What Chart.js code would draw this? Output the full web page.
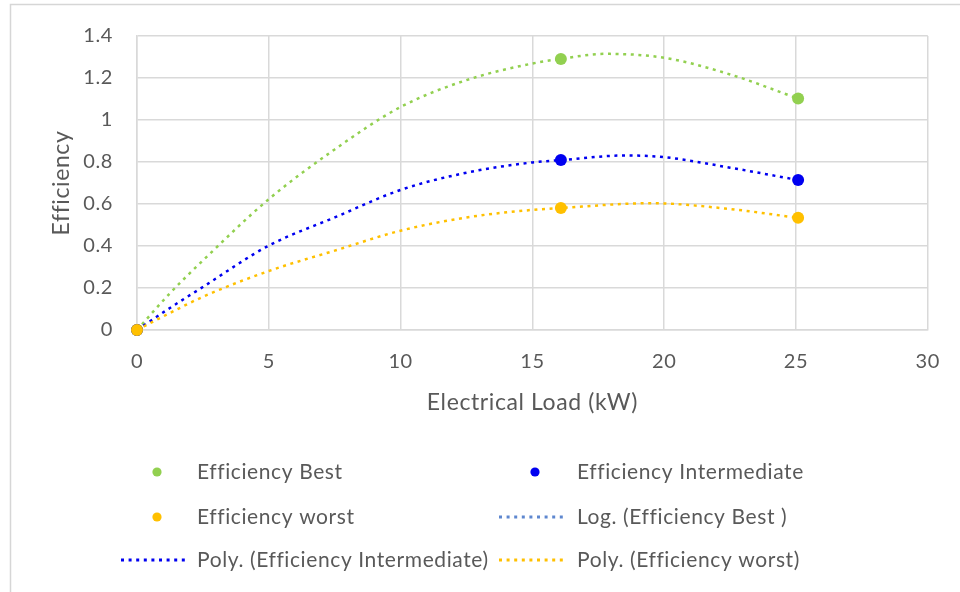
<!DOCTYPE html>
<html>
<head>
<meta charset="utf-8">
<script src="https://cdn.jsdelivr.net/npm/chart.js@4.4.1/dist/chart.umd.min.js"></script>
<style>
  html, body { margin: 0; padding: 0; background: #ffffff; }
  #wrap { position: relative; width: 960px; height: 592px; }
</style>
</head>
<body>
<div id="wrap"><canvas id="c" width="960" height="592"></canvas></div>
<script>
// Measured efficiency at each electrical load (kW)
const loadKW = [0, 16.08, 25.08];
const effBest = [0, 1.291, 1.102];
const effIntermediate = [0, 0.809, 0.714];
const effWorst = [0, 0.581, 0.534];

// Trend curves, sampled along each fitted line
const bestTrendX = [0, 1.25, 2.5, 5, 7.5, 10, 12.5, 15, 16.08, 17.75, 20, 22.5, 25.08];
const bestTrendY = [0, 0.175, 0.331, 0.623, 0.86, 1.062, 1.19, 1.269, 1.291, 1.315, 1.296, 1.217, 1.102];
const intTrendX = [0, 1.25, 2.5, 5, 7.5, 10, 12.5, 15, 16.08, 18.5, 20, 22.5, 25.08];
const intTrendY = [0, 0.105, 0.205, 0.402, 0.536, 0.667, 0.749, 0.798, 0.809, 0.831, 0.823, 0.773, 0.714];
const worstTrendX = [0, 1.25, 2.5, 5, 7.5, 10, 12.5, 15, 16.08, 19.5, 22.5, 25.08];
const worstTrendY = [0, 0.081, 0.158, 0.281, 0.378, 0.473, 0.536, 0.572, 0.581, 0.604, 0.576, 0.534];

// Axis ticks
const xTicks = [0, 5, 10, 15, 20, 25, 30];
const xTickLabels = ['0', '5', '10', '15', '20', '25', '30'];
const yTicks = [0, 0.2, 0.4, 0.6, 0.8, 1, 1.2, 1.4];
const yTickLabels = ['0', '0.2', '0.4', '0.6', '0.8', '1', '1.2', '1.4'];

const xTitle = 'Electrical Load (kW)';
const yTitle = 'Efficiency';

const GREEN = '#92D050';
const BLUE = '#0000F0';
const YELLOW = '#FFC000';
const LOG_BLUE = '#5E87CF';
const TEXT = '#595959';
const GRID = '#d9d9d9';
const FONT = 'Lato';

const toPts = (xs, ys) => xs.map((x, i) => ({ x: x, y: ys[i] }));

// Higher "order" is painted first, so markers (low order) sit on top of the trend lines
const trendStyle = (color, order) => ({
  order: order,
  showLine: true,
  pointRadius: 0,
  pointHoverRadius: 0,
  borderColor: color,
  backgroundColor: color,
  borderWidth: 2.5,
  borderDash: [3, 4.6],
  borderCapStyle: 'butt',
  cubicInterpolationMode: 'monotone',
  fill: false
});

const markerStyle = (color, order) => ({
  order: order,
  showLine: false,
  clip: false,
  pointRadius: 6,
  pointHoverRadius: 6,
  pointBorderWidth: 0,
  backgroundColor: color,
  borderColor: color
});

const datasets = [
  Object.assign({ label: 'Efficiency Best', data: toPts(loadKW, effBest), legendColor: GREEN, legendKind: 'dot' }, markerStyle(GREEN, 2)),
  Object.assign({ label: 'Efficiency Intermediate', data: toPts(loadKW, effIntermediate), legendColor: BLUE, legendKind: 'dot' }, markerStyle(BLUE, 1)),
  Object.assign({ label: 'Efficiency worst', data: toPts(loadKW, effWorst), legendColor: YELLOW, legendKind: 'dot' }, markerStyle(YELLOW, 0)),
  Object.assign({ label: 'Log. (Efficiency Best )', data: toPts(bestTrendX, bestTrendY), legendColor: LOG_BLUE, legendKind: 'line' }, trendStyle(GREEN, 5)),
  Object.assign({ label: 'Poly. (Efficiency Intermediate)', data: toPts(intTrendX, intTrendY), legendColor: BLUE, legendKind: 'line' }, trendStyle(BLUE, 4)),
  Object.assign({ label: 'Poly. (Efficiency worst)', data: toPts(worstTrendX, worstTrendY), legendColor: YELLOW, legendKind: 'line' }, trendStyle(YELLOW, 3))
];

// Legend order: two columns, three rows
const legendOrder = [
  'Efficiency Best', 'Efficiency Intermediate',
  'Efficiency worst', 'Log. (Efficiency Best )',
  'Poly. (Efficiency Intermediate)', 'Poly. (Efficiency worst)'
];

const LETTER_SPACING = '0.6px';

const spacingPlugin = {
  id: 'spacing',
  beforeLayout(chart) { chart.ctx.letterSpacing = LETTER_SPACING; },
  beforeDraw(chart) { chart.ctx.letterSpacing = LETTER_SPACING; }
};

const framePlugin = {
  id: 'frame',
  beforeDraw(chart) {
    const ctx = chart.ctx;
    ctx.save();
    ctx.strokeStyle = '#d6d6d6';
    ctx.lineWidth = 1.5;
    ctx.beginPath();
    ctx.moveTo(10.5, chart.height);
    ctx.lineTo(10.5, 4.5);
    ctx.lineTo(chart.width, 4.5);
    ctx.stroke();
    ctx.restore();
  }
};

const legendPlugin = {
  id: 'twoColLegend',
  afterDraw(chart) {
    const ctx = chart.ctx;
    const rowY = [472, 517, 560];
    const col = [
      { dot: 157, line0: 121, line1: 189, text: 197 },
      { dot: 535, line0: 499, line1: 567, text: 577 }
    ];
    ctx.save();
    ctx.letterSpacing = LETTER_SPACING;
    ctx.font = '21px ' + FONT;
    ctx.textBaseline = 'middle';
    ctx.textAlign = 'left';
    legendOrder.forEach((name, i) => {
      const ds = chart.data.datasets.find(d => d.label === name);
      const c = col[i % 2];
      const y = rowY[Math.floor(i / 2)];
      if (ds.legendKind === 'dot') {
        ctx.fillStyle = ds.legendColor;
        ctx.beginPath();
        ctx.arc(c.dot, y, 4.6, 0, Math.PI * 2);
        ctx.fill();
      } else {
        ctx.strokeStyle = ds.legendColor;
        ctx.lineWidth = 3;
        ctx.lineCap = 'butt';
        ctx.setLineDash([3, 4.6]);
        ctx.beginPath();
        ctx.moveTo(c.line0, y);
        ctx.lineTo(c.line1, y);
        ctx.stroke();
        ctx.setLineDash([]);
      }
      ctx.fillStyle = TEXT;
      ctx.fillText(name, c.text, y);
    });
    ctx.restore();
  }
};

new Chart(document.getElementById('c'), {
  type: 'scatter',
  data: { datasets: datasets },
  plugins: [spacingPlugin, framePlugin, legendPlugin],
  options: {
    responsive: false,
    animation: false,
    devicePixelRatio: 1,
    events: [],
    layout: { padding: { top: 34, right: 30, left: 40, bottom: 172 } },
    plugins: {
      legend: { display: false },
      tooltip: { enabled: false },
      title: { display: false }
    },
    scales: {
      x: {
        type: 'linear',
        min: 0,
        max: 30,
        afterBuildTicks(scale) { scale.ticks = xTicks.map(v => ({ value: v })); },
        afterFit(scale) { scale.height = 90; },
        grid: { color: GRID, lineWidth: 1.5, drawTicks: false },
        border: { color: GRID, width: 1.5 },
        ticks: {
          padding: 20,
          color: TEXT,
          font: { family: FONT, size: 20 },
          maxRotation: 0,
          callback(v) { const i = xTicks.indexOf(v); return i >= 0 ? xTickLabels[i] : ''; }
        },
        title: {
          display: true,
          text: xTitle,
          color: TEXT,
          font: { family: FONT, size: 23 },
          padding: { top: 0, bottom: 4 }
        }
      },
      y: {
        type: 'linear',
        min: 0,
        max: 1.4,
        afterBuildTicks(scale) { scale.ticks = yTicks.map(v => ({ value: v })); },
        afterFit(scale) { scale.width = 97; },
        grid: { color: GRID, lineWidth: 1.5, drawTicks: false },
        border: { color: GRID, width: 1.5 },
        ticks: {
          padding: 24,
          color: TEXT,
          font: { family: FONT, size: 20 },
          callback(v) {
            const i = yTicks.findIndex(t => Math.abs(t - v) < 1e-9);
            return i >= 0 ? yTickLabels[i] : '';
          }
        },
        title: {
          display: true,
          text: yTitle,
          color: TEXT,
          font: { family: FONT, size: 23 },
          padding: { top: 8, bottom: 0 }
        }
      }
    }
  }
});
</script>
</body>
</html>
